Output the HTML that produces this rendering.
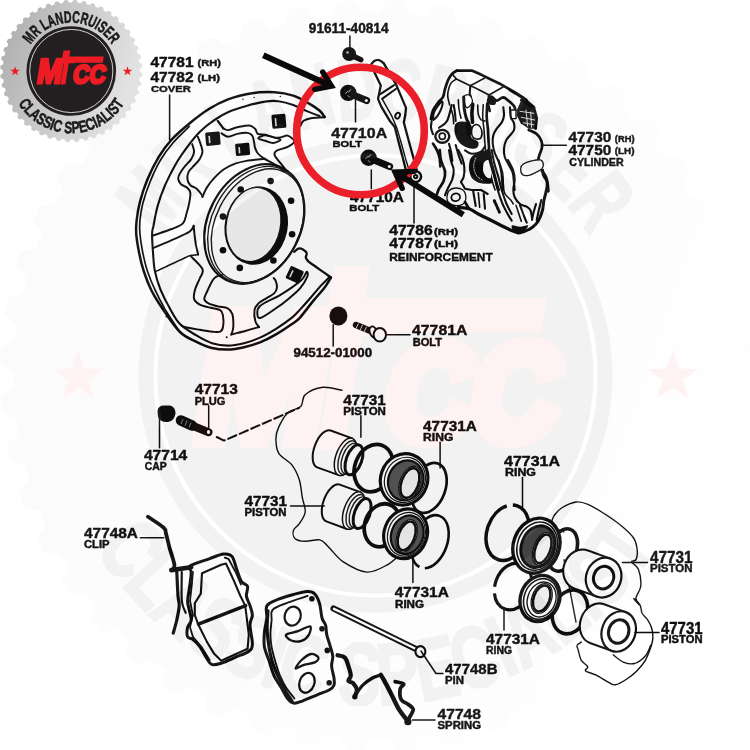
<!DOCTYPE html>
<html><head><meta charset="utf-8"><title>Brake caliper parts diagram</title>
<style>
html,body{margin:0;padding:0;background:#fff;}
svg{display:block;will-change:transform}
text{font-family:"Liberation Sans",sans-serif;font-weight:bold;fill:#111}
#labels text{stroke:#111;stroke-width:0.45;stroke-linejoin:round}
.ln{fill:none;stroke:#111;stroke-width:1.95;stroke-linecap:round;stroke-linejoin:round}
.th{fill:none;stroke:#111;stroke-width:2.2;stroke-linecap:round;stroke-linejoin:round}
.tn{fill:none;stroke:#1a1a1a;stroke-width:1.4;stroke-linecap:round;stroke-linejoin:round}
.bk{fill:#111;stroke:none}
.wf{fill:#fff;stroke:#111;stroke-width:1.3;stroke-linejoin:round}
#caliper .ln{stroke-width:2.2}
</style></head><body>
<svg width="750" height="750" viewBox="0 0 750 750">
<defs>
<linearGradient id="gg" x1="0" y1="0" x2="1" y2="0.35">
<stop offset="0" stop-color="#a9a9a9"/><stop offset="0.45" stop-color="#c6c6c6"/><stop offset="1" stop-color="#e2e2e2"/>
</linearGradient>
<filter id="soft" x="0" y="0" width="750" height="750" filterUnits="userSpaceOnUse"><feGaussianBlur stdDeviation="0.45"/></filter>
<path id="arcT" d="M -48.4 0 A 48.4 48.4 0 0 1 48.4 0"/>
<path id="arcB" d="M -62.2 0 A 62.2 62.2 0 0 0 62.2 0"/>
<g id="badge">
<path d="M68.50 0.72 L70.96 2.23 L70.80 5.39 L68.18 6.62 L67.82 9.65 L70.07 11.47 L69.49 14.58 L66.73 15.47 L65.98 18.42 L67.97 20.52 L66.99 23.52 L64.14 24.05 L63.01 26.88 L64.71 29.22 L63.35 32.07 L60.45 32.21 L58.96 34.87 L60.34 37.41 L58.62 40.06 L55.73 39.83 L53.91 42.27 L54.94 44.97 L52.89 47.37 L50.06 46.76 L47.93 48.94 L48.60 51.76 L46.25 53.87 L43.53 52.89 L41.13 54.78 L41.43 57.66 L38.83 59.44 L36.25 58.12 L33.63 59.68 L33.55 62.57 L30.73 64.00 L28.35 62.36 L25.55 63.56 L25.10 66.42 L22.12 67.47 L19.97 65.52 L17.04 66.35 L16.21 69.12 L13.12 69.78 L11.25 67.57 L8.23 68.00 L7.05 70.65 L3.90 70.89 L2.33 68.46 L-0.72 68.50 L-2.23 70.96 L-5.39 70.80 L-6.62 68.18 L-9.65 67.82 L-11.47 70.07 L-14.58 69.49 L-15.47 66.73 L-18.42 65.98 L-20.52 67.97 L-23.52 66.99 L-24.05 64.14 L-26.88 63.01 L-29.22 64.71 L-32.07 63.35 L-32.21 60.45 L-34.87 58.96 L-37.41 60.34 L-40.06 58.62 L-39.83 55.73 L-42.27 53.91 L-44.97 54.94 L-47.37 52.89 L-46.76 50.06 L-48.94 47.93 L-51.76 48.60 L-53.87 46.25 L-52.89 43.53 L-54.78 41.13 L-57.66 41.43 L-59.44 38.83 L-58.12 36.25 L-59.68 33.63 L-62.57 33.55 L-64.00 30.73 L-62.36 28.35 L-63.56 25.55 L-66.42 25.10 L-67.47 22.12 L-65.52 19.97 L-66.35 17.04 L-69.12 16.21 L-69.78 13.12 L-67.57 11.25 L-68.00 8.23 L-70.65 7.05 L-70.89 3.90 L-68.46 2.33 L-68.50 -0.72 L-70.96 -2.23 L-70.80 -5.39 L-68.18 -6.62 L-67.82 -9.65 L-70.07 -11.47 L-69.49 -14.58 L-66.73 -15.47 L-65.98 -18.42 L-67.97 -20.52 L-66.99 -23.52 L-64.14 -24.05 L-63.01 -26.88 L-64.71 -29.22 L-63.35 -32.07 L-60.45 -32.21 L-58.96 -34.87 L-60.34 -37.41 L-58.62 -40.06 L-55.73 -39.83 L-53.91 -42.27 L-54.94 -44.97 L-52.89 -47.37 L-50.06 -46.76 L-47.93 -48.94 L-48.60 -51.76 L-46.25 -53.87 L-43.53 -52.89 L-41.13 -54.78 L-41.43 -57.66 L-38.83 -59.44 L-36.25 -58.12 L-33.63 -59.68 L-33.55 -62.57 L-30.73 -64.00 L-28.35 -62.36 L-25.55 -63.56 L-25.10 -66.42 L-22.12 -67.47 L-19.97 -65.52 L-17.04 -66.35 L-16.21 -69.12 L-13.12 -69.78 L-11.25 -67.57 L-8.23 -68.00 L-7.05 -70.65 L-3.90 -70.89 L-2.33 -68.46 L0.72 -68.50 L2.23 -70.96 L5.39 -70.80 L6.62 -68.18 L9.65 -67.82 L11.47 -70.07 L14.58 -69.49 L15.47 -66.73 L18.42 -65.98 L20.52 -67.97 L23.52 -66.99 L24.05 -64.14 L26.88 -63.01 L29.22 -64.71 L32.07 -63.35 L32.21 -60.45 L34.87 -58.96 L37.41 -60.34 L40.06 -58.62 L39.83 -55.73 L42.27 -53.91 L44.97 -54.94 L47.37 -52.89 L46.76 -50.06 L48.94 -47.93 L51.76 -48.60 L53.87 -46.25 L52.89 -43.53 L54.78 -41.13 L57.66 -41.43 L59.44 -38.83 L58.12 -36.25 L59.68 -33.63 L62.57 -33.55 L64.00 -30.73 L62.36 -28.35 L63.56 -25.55 L66.42 -25.10 L67.47 -22.12 L65.52 -19.97 L66.35 -17.04 L69.12 -16.21 L69.78 -13.12 L67.57 -11.25 L68.00 -8.23 L70.65 -7.05 L70.89 -3.90 L68.46 -2.33Z" fill="url(#gg)"/>
<circle r="44.8" fill="#231f20"/>
<circle r="41.6" fill="none" stroke="#fff" stroke-width="0.8"/>
<text font-size="16.5" text-anchor="middle" style="fill:#1a1a1a;stroke:#1a1a1a;stroke-width:0.55"><textPath href="#arcT" startOffset="50%" textLength="96" lengthAdjust="spacingAndGlyphs">MR LANDCRUISER</textPath></text>
<text font-size="16.5" text-anchor="middle" style="fill:#1a1a1a;stroke:#1a1a1a;stroke-width:0.55"><textPath href="#arcB" startOffset="50%" textLength="127" lengthAdjust="spacingAndGlyphs">CLASSIC SPECIALIST</textPath></text>
<path id="star" d="M0 -5 L1.18 -1.62 L4.76 -1.55 L1.9 0.62 L2.94 4.05 L0 2 L-2.94 4.05 L-1.9 0.62 L-4.76 -1.55 L-1.18 -1.62Z" transform="translate(-56.2,0.3)" fill="#ed1c24"/>
<use href="#star" x="112.4"/>
<g transform="translate(0,13.4) skewX(-9)">
<text x="-35.6" y="-1.2" style="fill:#ed1c24;stroke:#ed1c24;stroke-linejoin:miter"><tspan font-size="34.5" stroke-width="3" textLength="25" lengthAdjust="spacingAndGlyphs">M</tspan><tspan font-size="37" dx="-6.2" dy="1.2" stroke-width="1.2" textLength="17" lengthAdjust="spacingAndGlyphs">T</tspan><tspan font-size="25.5" dx="0.6" dy="-1.4" stroke-width="3" textLength="32.5" lengthAdjust="spacingAndGlyphs">CC</tspan></text>
<rect x="-11.5" y="-28" width="39.5" height="6.4" fill="#ed1c24"/>
<rect x="-13.2" y="-34" width="6.8" height="13" fill="#ed1c24"/>
</g>
</g>
</defs>
<rect width="750" height="750" fill="#fff"/>
<g filter="url(#soft)">
<!-- 20_cover.svg -->
<g id="cover">
<path class="ln" d="M324.7 117.1 C323.8 116 322.2 112.9 319.5 110.5 C316.7 108.2 312.6 105.6 308.3 103.1 C303.9 100.6 298.9 97.4 293.3 95.6 C287.7 93.8 281.8 92.6 274.7 92.2 C267.5 91.9 258.2 92.2 250.4 93.4 C242.6 94.5 234.8 96.8 228 99.3 C221.2 101.9 215.6 104.8 209.3 108.7 C203.1 112.6 196.6 117.5 190.3 122.7 C184.1 127.8 177 133.7 171.7 139.5 C166.4 145.2 162.6 150.5 158.6 157.2 C154.6 163.9 150.5 172.1 147.4 179.6 C144.3 187.1 141.7 195.2 139.9 202 C138.1 208.8 137.2 215.4 136.6 220.7 C136 225.9 135.8 228.4 136.2 233.7 C136.6 238.9 137.8 246.1 139 252.3 C140.2 258.6 141.6 264.8 143.7 271 C145.7 277.2 148 283.4 151.1 289.7 C154.2 295.9 157.5 301.3 162.3 308.3 C167.1 315.4 174.4 326.5 180 332 C185.6 337.5 190.7 338.9 196 341.6 C201.3 344.3 206.7 346.7 212 348 C217.3 349.3 222.7 349.7 228 349.6 C233.3 349.5 238.7 348.4 244 347.2 C249.3 346 254.7 344.5 260 342.4 C265.3 340.3 270.7 337.5 276 334.4 C281.3 331.3 288 326.8 292 324 C296 321.2 296.5 321.5 300 317.6 C303.5 313.7 309.2 305.8 313.3 300.9 C317.3 295.9 321.5 291.7 324.5 287.8 C327.4 283.9 329.9 279.2 331 277.5" style="stroke-width:2.5"/>
<path class="ln" d="M189.4 126.4 C186.8 129 178.4 136.7 173.5 142.3 C168.7 147.9 164.4 153.5 160.5 160 C156.6 166.5 153.2 174.2 150.2 181.5 C147.2 188.8 144.4 197.3 142.7 203.9 C141 210.4 140.4 215.7 139.9 220.7 C139.5 225.6 139.5 228.4 139.9 233.7 C140.4 238.9 141.5 246.1 142.7 252.3 C144 258.6 145.4 264.8 147.4 271 C149.4 277.2 151.9 283.3 154.9 289.7 C157.8 296 161.2 302.5 165.1 309.3 C169.1 316 176.3 326.5 178.5 330" style="stroke-width:1.7"/>
<path class="ln" d="M319.5 116.1 C317.3 115.3 310.8 112.8 306.4 110.9 C302 109 298 106.6 293.3 104.9 C288.7 103.3 283.1 101.8 278.4 101.2 C273.7 100.6 270.3 100.8 265 101.6 C259.6 102.4 252.2 104.2 246.3 105.9 C240.4 107.5 234.8 109.1 229.5 111.5 C224.2 113.8 219.6 116.4 214.6 119.9 C209.6 123.3 204.3 127.3 199.7 132 C195 136.7 190.6 142.4 186.6 147.9 C182.6 153.3 179 158.4 175.4 164.7 C171.8 170.9 168.1 178.4 165.1 185.2 C162.2 192 159.6 198.9 157.7 205.7 C155.7 212.6 154.3 221.6 153.4 226.3 C152.4 230.9 152.1 229.3 152.1 233.7 C152 238 152.5 246.1 153 252.3 C153.5 258.6 153.6 264.8 154.9 271 C156.1 277.2 158 283.4 160.5 289.7 C163 295.9 166.5 302.6 169.8 308.3 C173.1 314.1 175.6 319.5 180 324 C184.4 328.5 190.7 332 196 335.2 C201.3 338.4 206.7 341.5 212 343.2 C217.3 344.9 222.7 345.6 228 345.6 C233.3 345.6 238.7 344.5 244 343.2 C249.3 341.9 254.7 340 260 337.6 C265.3 335.2 270.7 332.1 276 328.8 C281.3 325.5 288 320.8 292 317.6 C296 314.4 297.1 312.7 300 309.6 C302.9 306.5 306.1 302.9 309.5 299 C313 295.1 317.5 289.5 320.7 285.9 C324 282.4 327.7 278.9 329.1 277.5" style="stroke-width:2.1"/>
<path class="ln" d="M324.7 117.1 C322.6 117.2 315.5 117.4 312 118 C308.5 118.6 305.5 119.5 303.6 120.8 C301.7 122.1 301 125 300.4 125.8"/>
<path class="ln" d="M331 277.5 C329.9 276.8 327.1 274.7 324.5 272.9 C321.8 271 317.8 268.2 315.1 266.3 C312.5 264.5 310.2 263.1 308.6 261.7 C307 260.2 306.1 259 305.8 257.6 C305.5 256.2 307.2 254.6 306.7 253.3 C306.3 251.9 304.4 250.3 303 249.5 C301.6 248.8 299.8 248.2 298.3 248.6 C296.9 249 294.9 251.2 294.2 251.8" style="stroke-width:2.3"/>
<circle cx="242.9" cy="99.3" r="0.7" class="bk"/>
<circle cx="254.1" cy="97.5" r="0.7" class="bk"/>
<circle cx="280.3" cy="96.5" r="0.7" class="bk"/>
<path class="th" d="M217.7 120.8 L223.3 128.3"/>
<path class="ln" d="M223.3 128.3 C224.1 128.6 225.7 130.3 228 130.1 C230.3 130 233.8 128.1 237.3 127.3 C240.9 126.6 246.5 125.2 249.5 125.5 C252.4 125.7 253.7 127.4 255.1 128.8 C256.5 130.2 256.2 132.9 257.9 133.9 C259.6 134.9 262.5 134.2 265.3 134.8 C268.1 135.4 271.9 137.2 274.7 137.6 C277.5 138 280 137.4 282.1 137 C284.3 136.7 285.7 135 287.7 135.7 C289.8 136.4 294.3 139.5 294.3 141.3 C294.3 143.2 290.7 145.4 287.7 146.9 C284.8 148.5 278.7 149.3 276.5 150.7 C274.4 152.1 274 153.3 274.7 155.3 C275.3 157.4 278.1 160 280.3 162.8 C282.4 165.6 286.5 170.6 287.7 172.1"/>
<path class="ln" d="M221.5 133.3 C222.6 133.9 225.4 136.6 228 136.7 C230.6 136.8 234.1 134.5 237.3 133.9 C240.6 133.2 245.1 132.6 247.6 132.9 C250.1 133.2 251.2 134.2 252.3 135.7 C253.4 137.3 253.7 140.2 254.1 142.3 C254.6 144.3 254.4 146 255.1 147.9 C255.7 149.7 256.5 151.8 257.9 153.5 C259.3 155.2 261.1 156.6 263.5 158.1 C265.8 159.7 269.4 161.4 271.9 162.8 C274.4 164.2 276.4 165.1 278.4 166.5 C280.4 167.9 283.1 170.4 284 171.2"/>
<path class="ln" d="M258.2 138.2 C258.2 139.1 262.8 140 265.3 140.8 C267.8 141.6 270.6 143.2 273.2 143 C275.7 142.8 280.4 140.6 280.6 139.7 C280.9 138.8 277.2 138.3 274.7 137.6 C272.1 136.9 268.1 135.3 265.3 135.4 C262.6 135.5 258.2 137.3 258.2 138.2Z"/>
<path class="ln" d="M197.8 136.7 C198.3 137.9 199.8 141.6 200.6 144.1 C201.4 146.6 202.6 149.1 202.5 151.6 C202.3 154.1 201.2 156.6 199.7 159.1 C198.1 161.6 195 164.4 193.1 166.5 C191.3 168.7 189.4 170 188.5 172.1 C187.5 174.3 187.2 177.4 187.5 179.6 C187.8 181.8 188.8 183.6 190.3 185.2 C191.9 186.8 195 187.4 196.9 188.9 C198.7 190.5 200.6 193.2 201.5 194.5 C202.5 195.8 202.3 196.4 202.5 196.8"/>
<path class="ln" d="M192.2 144.1 C192.5 145.4 194.2 149.1 194.1 151.6 C193.9 154.1 192.8 156.6 191.3 159.1 C189.7 161.6 186.6 164.2 184.7 166.5 C182.9 168.9 181.2 171 180.1 173.1 C179 175.1 178 176.8 178.2 178.7 C178.4 180.5 179.4 182.7 181 184.3 C182.6 185.8 186 186.6 187.5 188 C189.1 189.4 190 190.3 190.3 192.7 C190.6 195 190 198.6 189.4 202 C188.8 205.4 187.7 209.6 186.6 213.2 C185.5 216.8 185.4 220.8 182.9 223.4 C180.4 226 176.6 227 171.7 229 C166.7 231 156.1 234.4 153 235.5"/>
<path class="ln" d="M202.5 196.8 C203.2 195.2 205.1 190.2 207.1 187.1 C209.2 183.9 211.8 180.7 214.6 177.7 C217.4 174.8 220.5 171.7 223.9 169.3 C227.4 167 231.4 165.1 235.1 163.7 C238.9 162.3 241.4 161.8 246.3 160.9 C251.3 160.1 261.9 159.1 265 158.7"/>
<path class="ln" d="M153 248.2 C156.1 246.9 165.6 242.9 171.7 240.2 C177.7 237.5 185.7 234.2 189.4 231.8 C193.1 229.4 193 226.8 193.7 225.8"/>
<path class="ln" d="M193.7 225.8 C193.8 227.1 194.1 230.5 194.4 233.7 C194.8 236.8 195.3 241.4 195.9 244.9 C196.6 248.4 197.8 253 198.2 254.6"/>
<path class="ln" d="M198.2 254.6 L189.4 255.7 L154.9 271.9" style="stroke-dasharray:1.2 1;stroke-width:1.6"/>
<path class="ln" d="M190.3 255.7 C192.4 257.9 200.9 265.3 202.5 269.1 C204 272.9 200.9 275 199.7 278.5 C198.4 281.9 195.9 286.2 195 289.7 C194.1 293.1 193.3 296.5 194.1 299 C194.8 301.5 197.2 303.2 199.7 304.6 C202.2 306 205.6 306.5 209 307.4 C212.4 308.3 217.9 308.8 220.2 310.2 C222.5 311.6 222.5 313 223 315.8 C223.5 318.6 223.5 324.4 223 327 C222.5 329.6 221.9 330.9 220.2 331.7 C218.5 332.4 216.2 332 212.7 331.7 C209.3 331.4 204.3 330.6 199.7 329.8 C195 329 187.8 327.8 184.7 327 C181.6 326.2 181.6 325.4 181 325.1"/>
<path class="ln" d="M222.1 275.1 C221.1 275.4 218 275.7 216.5 276.6 C214.9 277.5 214.3 277.8 212.7 280.3 C211.2 282.8 208.5 288.4 207.1 291.5 C205.7 294.6 204 297 204.3 299 C204.6 301 206.7 302.4 209 303.7 C211.3 304.9 215.2 305.7 218.3 306.5 C221.4 307.2 225.3 307.1 227.7 308.3 C230 309.6 231.4 310.8 232.3 313.9 C233.3 317 233.4 323.6 233.3 327 C233.1 330.4 231.7 333.2 231.4 334.5"/>
<circle cx="226.7" cy="337.3" r="1" class="bk"/>
<circle cx="166.1" cy="316.7" r="0.8" class="bk"/>
<path class="ln" d="M231.1 334.5 C233.6 333.8 241.4 332 246.1 330.7 C250.7 329.5 257 327.6 259.1 327"/>
<path class="ln" d="M259.1 327 C258.5 326.1 256.2 324.2 255.4 321.4 C254.6 318.6 254 313.2 254.5 310.2 C254.9 307.2 256.2 305.7 258.2 303.7 C260.2 301.6 264 299.8 266.6 298.1 C269.2 296.4 272.4 295.1 274.1 293.4 C275.8 291.7 276.6 289.8 276.9 287.8 C277.2 285.8 276.5 282.9 275.9 281.3 C275.4 279.6 274.1 278.6 273.7 278.1"/>
<path class="ln" d="M260.1 318 C257 318.7 257.4 314 257.3 312.1 C257.2 310.1 258 308.2 259.5 306.5 C261.1 304.8 263.2 303.7 266.6 301.8 C270 299.9 275.3 297.8 279.7 295.3 C284 292.8 289 289.5 292.7 286.9 C296.5 284.2 299.7 281.9 302.1 279.4 C304.4 276.9 305.9 272.4 306.7 271.9 C307.6 271.5 308.4 273.9 307.3 276.6 C306.2 279.3 303.2 284.5 300.2 288.2 C297.2 291.8 293 295.1 289 298.4 C285 301.8 280.8 305.1 275.9 308.3 C271.1 311.6 263.2 317.4 260.1 318Z"/>
<g transform="rotate(-5 212.9 138.7)"><rect x="205.6" y="132.0" width="14.6" height="13.4" rx="1.5" class="bk"/><rect x="208.6" y="135.5" width="1.6" height="7.4" fill="#ddd"/></g>
<g transform="rotate(-5 242.6 149.4)"><rect x="235.5" y="143.2" width="14.2" height="12.4" rx="1.5" class="bk"/><rect x="238.5" y="146.7" width="1.6" height="6.4" fill="#ddd"/></g>
<g transform="rotate(-5 278.9 121.3)"><rect x="271.9" y="114.3" width="14.0" height="14.0" rx="1.5" class="bk"/><rect x="274.9" y="117.8" width="1.6" height="8.0" fill="#ddd"/></g>
<g transform="rotate(25 294.8 274.8)"><rect x="287.5" y="268.0" width="14.5" height="13.6" rx="1.5" class="bk"/><rect x="290.5" y="271.5" width="1.6" height="7.6" fill="#ddd"/></g>
<g transform="translate(254.3,224) rotate(27)">
<ellipse rx="46.2" ry="62.7" class="ln" style="stroke-width:2.2"/>
<ellipse cx="1.8" cy="0" rx="44.2" ry="61.4" class="tn"/>
<ellipse cx="3.8" cy="0" rx="42.2" ry="60" class="tn"/>
</g>
<g transform="translate(253.4,224.5) rotate(11.5)">
<ellipse cx="3" cy="0.5" rx="31.5" ry="39.5" class="bk"/>
<ellipse rx="27" ry="37.3" fill="#f4f4f4" stroke="#111" stroke-width="1.2"/>
</g>
<circle cx="270.6" cy="181.1" r="3.3" class="bk"/>
<circle cx="240.7" cy="189.5" r="3.3" class="bk"/>
<circle cx="223.0" cy="216.6" r="3.3" class="bk"/>
<circle cx="223.0" cy="250.2" r="3.3" class="bk"/>
<circle cx="239.8" cy="267.9" r="3.3" class="bk"/>
<circle cx="273.4" cy="260.5" r="3.3" class="bk"/>
<circle cx="292.1" cy="234.3" r="3.3" class="bk"/>
<circle cx="291.1" cy="200.7" r="3.3" class="bk"/>
</g>
<!-- 22_bolts.svg -->
<g id="bolts-bracket">
<circle cx="349.2" cy="54" r="7" class="bk"/>
<path class="ln" d="M353.9 56.5 L360.8 59.6" style="stroke-width:5.4;stroke:#111"/>
<circle cx="347.5" cy="52.5" r="1.2" fill="#bbb"/>
<path d="M348.3 92.9 L366.6 100.6" stroke="#111" stroke-width="7.0" stroke-linecap="round" fill="none"/>
<circle cx="348.3" cy="92.9" r="8.2" class="bk"/>
<circle cx="366.3" cy="100.5" r="1.5" fill="#fff"/>
<path d="M345.3 93.9 l3 -3 M350.8 89.4 l-2.5 3 M347.8 95.4 l2 2" stroke="#ccc" stroke-width="0.9" fill="none"/>
<path d="M368.6 157.8 L389.6 166.6" stroke="#111" stroke-width="7.0" stroke-linecap="round" fill="none"/>
<circle cx="368.6" cy="157.8" r="8.2" class="bk"/>
<circle cx="389.3" cy="166.5" r="1.5" fill="#fff"/>
<path d="M365.6 158.8 l3 -3 M371.1 154.3 l-2.5 3 M368.1 160.3 l2 2" stroke="#ccc" stroke-width="0.9" fill="none"/>
<path class="ln" d="M370.9 64.9 C371.4 64.3 372.6 62 373.9 61.2 C375.2 60.4 377.3 59.8 378.9 60.1 C380.6 60.4 382.8 62.6 383.6 63.1" style="stroke-width:2.2"/>
<path class="ln" d="M370.9 64.9 L380.8 85.5 L378 98.9 L381.4 106.9 L390.1 121.3 L394.8 126.9 L398.9 143.3 L403.4 160.1 L406.4 172.3" style="stroke-width:2.3"/>
<path class="ln" d="M383.6 63.1 L395.7 83.6 L406 107.9 L405.3 115 L403.8 122.4 L407.9 137.7 L412.5 154.5 L416.8 170.4" style="stroke-width:2.3"/>
<path class="ln" d="M379.9 94.4 L394.1 85.1"/>
<path class="ln" d="M382.1 98.9 L396.1 88.8"/>
<path class="ln" d="M382.1 98.9 L391.4 115.3 L397 128.4 L401.3 143.3 L406 160.1 L409.4 171.3" style="stroke-width:1.4"/>
<ellipse cx="397.6" cy="115.7" rx="2.2" ry="3" transform="rotate(25 397.6 115.7)" class="ln" style="stroke-width:1.9"/>
<circle cx="415.7" cy="176.6" r="5.4" class="ln" style="stroke-width:2.4;fill:#fff"/><circle cx="415.7" cy="176.6" r="1.7" class="ln"/>
</g>
<!-- 24_caliper.svg -->
<g id="caliper">
<path class="ln" d="M431 119 C431.3 117.6 431.8 113.1 433 110.3 C434.2 107.6 436.7 104.6 438.3 102.3 C440 100.1 441.9 99.2 443 97 C444.1 94.8 444.1 91.9 445 89 C445.9 86.1 447.1 82.2 448.3 79.7 C449.6 77.1 450.9 75.2 452.3 73.7 C453.8 72.2 456.2 71.1 457 70.6" style="stroke-width:2.7"/>
<path class="ln" d="M457 70.6 L471.7 70.6 L481 74.6 L499.7 83.7 L517 93.7 L526.3 99.9" style="stroke-width:2.7"/>
<path class="ln" d="M433 118.3 C433.1 117 433.3 114 434.3 111.7 C435.3 109.3 437.7 106 439 104.3 C440.3 102.7 441.9 101.1 442.3 101.7 C442.8 102.2 442.4 105.3 441.7 107.7 C440.9 110 439 113.7 437.7 115.7 C436.3 117.7 434.4 119.2 433.7 119.7 C432.9 120.1 432.9 119.7 433 118.3Z" style="stroke-width:2.1"/>
<path class="ln" d="M456.3 79 L470.3 85.7 L484.3 78.3" style="stroke-width:1.6"/>
<path class="ln" d="M452.3 74.1 L456.3 79" style="stroke-width:1.6"/>
<path class="ln" d="M470.3 85.7 L475 87.7 L489 95 L503 87" style="stroke-width:1.6"/>
<path class="ln" d="M470.3 85.7 L469.7 93.7 L471 97" style="stroke-width:2.1"/>
<path class="ln" d="M489 95 L488.3 105 L489.7 111" style="stroke-width:2.7"/>
<path class="ln" d="M456.3 79 C455.6 79.6 452.9 80.9 451.7 82.3 C450.4 83.8 449.7 85.4 449 87.7 C448.3 89.9 447.6 92.8 447.7 95.7 C447.8 98.6 449.3 103.4 449.7 105" style="stroke-width:1.6"/>
<path class="wf" d="M464.3 96.3 C465 94.7 467.7 94.4 469 95 C470.3 95.6 471.9 98.2 472.3 99.7 C472.8 101.1 472.4 102.3 471.7 103.7 C470.9 105 468.8 107.4 467.7 107.7 C466.6 107.9 465.6 106.9 465 105 C464.4 103.1 463.7 98 464.3 96.3Z"/>
<path class="ln" d="M463.7 97 C463.8 99 463.9 105.4 464.3 109 C464.8 112.6 465.6 115.9 466.3 118.3 C467.1 120.8 468.6 122.8 469 123.7" style="stroke-width:3"/>
<path class="ln" d="M472.7 104.3 C472.6 105.8 472 110 471.9 113 C471.9 116 472.4 120.8 472.5 122.3" style="stroke-width:3.6"/>
<path class="ln" d="M477.7 105 C477.8 106.6 477.8 111.9 478.3 114.3 C478.9 116.8 479.9 118.6 481 119.7 C482.1 120.8 484.3 120.8 485 121" style="stroke-width:1.6"/>
<path class="ln" d="M458.3 99.7 C458.4 101.2 458.6 105.9 459 109 C459.4 112.1 460.7 116.8 461 118.3" style="stroke-width:1.6"/>
<path class="ln" d="M453.7 105 C453.9 106.3 454.7 110.3 455 113 C455.3 115.7 455.6 119.7 455.7 121" style="stroke-width:2.1"/>
<path d="M455 125 C455.8 122.9 457.3 122 459.7 121.7 C462 121.3 466.9 121.8 469 123 C471.1 124.2 472 126.7 472.3 129 C472.7 131.3 470 134.8 471 137 C472 139.2 477.4 140.4 478.3 142.3 C479.2 144.2 478.1 147.4 476.3 148.3 C474.6 149.2 470.4 148.6 467.7 147.7 C464.9 146.8 461.8 145.2 459.7 143 C457.6 140.8 455.8 137.3 455 134.3 C454.2 131.3 454.2 127.1 455 125Z" fill="#111"/>
<path d="M471.7 129.7 C471.9 127.9 472.6 126.4 473.7 125.7 C474.8 124.9 477 124.2 478.3 125 C479.7 125.8 481.2 128.2 481.7 130.3 C482.1 132.4 481.9 136.2 481 137.7 C480.1 139.1 477.8 139.2 476.3 139 C474.9 138.8 473.1 137.9 472.3 136.3 C471.6 134.8 471.4 131.4 471.7 129.7Z" fill="#fff"/>
<path class="ln" d="M471.7 129.7 C471.9 127.9 472.6 126.4 473.7 125.7 C474.8 124.9 477 124.2 478.3 125 C479.7 125.8 481.2 128.2 481.7 130.3 C482.1 132.4 481.9 136.2 481 137.7 C480.1 139.1 477.8 139.2 476.3 139 C474.9 138.8 473.1 137.9 472.3 136.3 C471.6 134.8 471.4 131.4 471.7 129.7Z" style="stroke-width:1.6"/>
<path class="ln" d="M465 150.3 C466.1 150.9 469 153.4 471.7 153.7 C474.3 153.9 478.8 152.9 481 151.7 C483.2 150.4 484.3 147.2 485 146.3" style="stroke-width:2.1"/>
<ellipse cx="442.3" cy="136.3" rx="7" ry="6.4" class="ln" style="stroke-width:2.4;fill:#fff"/>
<ellipse cx="442.3" cy="136.3" rx="3.1" ry="3.1" class="ln" style="stroke-width:1.7"/>
<path class="ln" d="M451.7 105 C450.9 107.7 449.1 117.2 447 121 C444.9 124.8 440.3 126.6 439 127.7" style="stroke-width:2.1"/>
<path class="ln" d="M431.7 121 C431.6 122.1 430.8 125.4 431 127.7 C431.2 129.9 432.7 133.2 433 134.3" style="stroke-width:2.1"/>
<path class="ln" d="M433 143.7 C433.7 144.8 435.9 147.9 437 150.3 C438.1 152.8 439.1 155.7 439.7 158.3 C440.2 161 440.2 165 440.3 166.3" style="stroke-width:2.7"/>
<path class="ln" d="M449 143.7 C449.3 145 450.4 148.8 451 151.7 C451.6 154.6 452.1 159.4 452.3 161" style="stroke-width:2.1"/>
<path class="ln" d="M455.7 145 C456.1 146.6 457.3 151.2 458.3 154.3 C459.3 157.4 461.1 162.1 461.7 163.7" style="stroke-width:2.1"/>
<path class="ln" d="M451 109 C451.3 110.1 452.6 113.2 453 115.7 C453.4 118.1 453.6 122.3 453.7 123.7" style="stroke-width:1.6"/>
<path class="ln" d="M488 100.7 C488.6 100 489.9 96.7 491.3 96.7 C492.8 96.7 494.7 100.6 496.7 100.7 C498.7 100.8 501.1 97.1 503.3 97.3 C505.6 97.6 508.2 100.6 510 102 C511.8 103.4 513.1 104.7 514 106 C514.9 107.3 515.1 109.3 515.3 110" style="stroke-width:2.7"/>
<path d="M488.7 99.6 C489 98.4 490.8 97.1 492 97.3 C493.2 97.6 495.6 99.7 496 100.9 C496.4 102.2 495.7 104.1 494.7 104.7 C493.7 105.2 491 105.2 490 104.4 C489 103.6 488.3 100.8 488.7 99.6Z" fill="#111"/>
<rect x="510.7" y="110.0" width="5.3" height="8.6" class="wf" style="stroke-width:1.4"/>
<path d="M521.3 100 L534 108 L536.7 118 L535.6 128.7 L528.7 128.7 L520.7 123.3 L516.7 115.3 L516.9 110Z" fill="#1a1a1a"/>
<path class="ln" d="M521.3 100 L534 108 L536.7 118 L535.6 128.7" style="stroke-width:2.7"/>
<path class="ln" d="M520 111.3 L534 113.3" style="stroke:#eee;stroke-width:0.9"/>
<path class="ln" d="M521.3 117.3 L534.7 120" style="stroke:#eee;stroke-width:0.9"/>
<path class="ln" d="M523.3 122.7 L534 124.9" style="stroke:#eee;stroke-width:0.9"/>
<path class="ln" d="M526 110 L527.6 126" style="stroke:#eee;stroke-width:0.9"/>
<path class="ln" d="M530.7 112 L531.6 127.3" style="stroke:#eee;stroke-width:0.9"/>
<path class="ln" d="M510 90 L523.3 98 L534 107.3" style="stroke-width:2.7"/>
<path class="ln" d="M510 107.3 C510.1 108.9 510 114 510.7 116.7 C511.3 119.3 513.4 121.1 514 123.3 C514.6 125.6 514.7 128 514 130 C513.3 132 511.3 133.6 510 135.3 C508.7 137.1 507 138.4 506 140.7 C505 142.9 504.2 146 504 148.7 C503.8 151.3 503.9 154 504.7 156.7 C505.4 159.3 507.3 162 508.7 164.7 C510 167.3 511.8 169.6 512.7 172.7 C513.6 175.8 513.7 180.4 514 183.3 C514.3 186.2 514.6 188.9 514.7 190" style="stroke-width:2.1"/>
<path class="ln" d="M503.3 107.3 C503.4 108.7 504.2 112.9 504 115.3 C503.8 117.8 503.2 119.8 502 122 C500.8 124.2 498.1 126.4 496.7 128.7 C495.2 130.9 494 132.9 493.3 135.3 C492.7 137.8 492.4 140.4 492.7 143.3 C492.9 146.2 493.7 149.6 494.7 152.7 C495.7 155.8 497.6 158.7 498.7 162 C499.8 165.3 500.7 168 501.3 172.7 C502 177.3 502.4 187.1 502.7 190" style="stroke-width:2.1"/>
<path class="ln" d="M487.3 103.3 C487.2 105.6 486.6 112.2 486.7 116.7 C486.8 121.1 487.7 125.6 488 130 C488.3 134.4 488.3 138.9 488.7 143.3 C489 147.8 489.2 152.2 490 156.7 C490.8 161.1 492.2 165.6 493.3 170 C494.4 174.4 495.8 180 496.7 183.3 C497.6 186.7 498.3 188.9 498.7 190" style="stroke-width:2.7"/>
<path class="ln" d="M483.3 104.7 C483.2 106.7 482.6 112.4 482.7 116.7 C482.8 120.9 483.6 125.6 484 130 C484.4 134.4 484.5 138.9 484.9 143.3 C485.4 147.8 485.7 152.2 486.5 156.7 C487.3 161.1 488.7 165.6 489.7 170 C490.8 174.4 492 180 492.9 183.3 C493.8 186.7 494.7 188.9 495.1 190" style="stroke-width:1.6"/>
<path class="ln" d="M528.7 130 C530 130.7 534.6 132.2 536.7 134 C538.8 135.8 540.4 138.4 541.3 140.7 C542.2 142.9 542.3 144.9 542 147.3 C541.7 149.8 540 153.3 539.3 155.3 C538.7 157.3 538.4 158.7 538.3 159.3" style="stroke-width:2.7"/>
<path class="wf" d="M520.7 168.7 C520.8 166.9 521.3 165.3 523.3 164 C525.3 162.7 529.8 161.3 532.7 160.7 C535.6 160 538.9 159.4 540.7 160 C542.4 160.6 543.1 162.6 543.3 164 C543.6 165.4 543.1 167.3 542 168.7 C540.9 170 538.9 170.9 536.7 172 C534.4 173.1 531 174.9 528.7 175.3 C526.3 175.8 524 175.8 522.7 174.7 C521.3 173.6 520.6 170.4 520.7 168.7Z"/>
<path class="ln" d="M542.7 170 C542.8 170.9 542.6 173.3 543.3 175.3 C544.1 177.3 546.5 179.3 547.3 182 C548.2 184.7 548.2 189.8 548.4 191.3" style="stroke-width:2.7"/>
<path d="M469 164.7 C469.3 162 469.9 158.8 471.7 156.7 C473.4 154.6 476.8 153 479.7 152 C482.6 151 487 149.7 489 150.7 C491 151.7 492.2 156.1 491.7 158 C491.1 159.9 487.1 160 485.7 162 C484.2 164 482.9 167.6 483 170 C483.1 172.4 484.9 175.2 486.3 176.7 C487.8 178.1 490.8 177.6 491.7 178.7 C492.6 179.8 493.4 182.6 491.7 183.3 C489.9 184.1 484.1 184 481 183.3 C477.9 182.7 474.9 181.1 473 179.3 C471.1 177.6 470.3 175.1 469.7 172.7 C469 170.2 468.7 167.3 469 164.7Z" fill="#111"/>
<path d="M483.7 163.3 C484.3 161.4 486.4 160 487.7 160 C488.9 160 490.4 160.6 491 163.3 C491.6 166.1 491.7 174.3 491 176.7 C490.3 179 488.2 178.2 487 177.3 C485.8 176.4 484.2 173.7 483.7 171.3 C483.1 169 483 165.2 483.7 163.3Z" fill="#fff"/>
<path class="ln" d="M475.7 158 C475.3 159.3 473.6 163.1 473.7 166 C473.8 168.9 474.9 173 476.3 175.3 C477.8 177.7 481.3 179.2 482.3 180" style="stroke:#ddd;stroke-width:0.9;stroke-dasharray:1.5 1.5"/>
<path class="ln" d="M439.7 150 C439.9 151.8 440.1 157.1 441 160.7 C441.9 164.2 444.6 168 445 171.3 C445.4 174.7 444.7 177.8 443.7 180.7 C442.7 183.6 440.1 186.4 439 188.7 C437.9 190.9 437.3 193.1 437 194" style="stroke-width:2.7"/>
<path class="ln" d="M449 150 C449.3 151.8 450.2 157.3 451 160.7 C451.8 164 453.4 166.9 453.7 170 C453.9 173.1 453.3 176.2 452.3 179.3 C451.3 182.4 448.9 186 447.7 188.7 C446.4 191.3 445.4 194.2 445 195.3" style="stroke-width:2.1"/>
<path class="ln" d="M458.3 150 C459 151.3 461.3 155.1 462.3 158 C463.3 160.9 464.1 164.2 464.3 167.3 C464.6 170.4 464.2 174.2 463.7 176.7 C463.1 179.1 461.4 181.1 461 182" style="stroke-width:2.1"/>
<path class="wf" d="M447 196.7 C447.2 194.9 447.6 192.1 449 190.7 C450.4 189.2 453.3 188.1 455.7 188 C458 187.9 461.3 188.8 463 190 C464.7 191.2 465.3 193.3 465.7 195.3 C466 197.3 466 200.3 465 202 C464 203.7 461.9 204.9 459.7 205.3 C457.4 205.8 453.7 205.3 451.7 204.7 C449.7 204 448.4 202.7 447.7 201.3 C446.9 200 446.8 198.4 447 196.7Z"/>
<ellipse cx="455.7" cy="197.3" rx="4.4" ry="3.8" transform="rotate(-15 455.7 197.3)" class="ln" style="stroke-width:1.8"/>
<path class="ln" d="M461 182 L465 188.7 L471.7 190 L481 190 L487.7 194" style="stroke-width:2.1"/>
<path class="ln" d="M473 190 L475.7 206" style="stroke-width:2.1"/>
<path class="ln" d="M478.3 192.7 L479.7 207.3" style="stroke-width:1.6"/>
<path class="ln" d="M483.7 194 L485 208.7" style="stroke-width:2.1"/>
<path class="ln" d="M465 202 L469 208.7" style="stroke-width:2.7"/>
<path class="ln" d="M458.3 207.3 C460.1 207.6 465.7 207.6 469 208.7 C472.3 209.8 475 212.2 478.3 214 C481.7 215.8 485.4 217.6 489 219.3 C492.6 221.1 496.1 222.9 499.7 224.7 C503.2 226.4 507.2 228.6 510.3 230 C513.4 231.4 517 232.4 518.3 232.9" style="stroke-width:3.2"/>
<path class="ln" d="M487.7 150 C488.1 152.2 489.2 158.9 490.3 163.3 C491.4 167.8 493.1 172.2 494.3 176.7 C495.6 181.1 496.3 185.6 497.7 190 C499 194.4 500.7 199.3 502.3 203.3 C504 207.3 506.1 211.1 507.7 214 C509.2 216.9 511 219.6 511.7 220.7" style="stroke-width:2.1"/>
<path class="ln" d="M491.7 150 C492.1 152.2 493.2 158.9 494.3 163.3 C495.4 167.8 497.1 172.2 498.3 176.7 C499.6 181.1 500.3 185.6 501.7 190 C503 194.4 504.7 199.3 506.3 203.3 C508 207.3 510.8 212.2 511.7 214" style="stroke-width:2.1"/>
<path class="ln" d="M494.3 200.7 L499.7 212.7" style="stroke-width:3;stroke-dasharray:2 1.5"/>
<path class="ln" d="M542 170.7 C542.7 171.8 545.1 175.1 546 177.3 C546.9 179.6 547.3 181.6 547.3 184 C547.3 186.4 546.6 189.3 546 192 C545.4 194.7 544.6 197.1 544 200 C543.4 202.9 543.3 206.4 542.7 209.3 C542 212.2 541.1 214.9 540 217.3 C538.9 219.8 537.8 222 536 224 C534.2 226 532 227.9 529.3 229.3 C526.7 230.8 522.2 232.2 520 232.7 C517.8 233.1 516.7 232.1 516 232" style="stroke-width:3"/>
<path class="ln" d="M508 160 C508.9 161.8 512.2 167.3 513.3 170.7 C514.4 174 514.7 176.9 514.7 180 C514.7 183.1 513.3 186.4 513.3 189.3 C513.3 192.2 513.6 194.9 514.7 197.3 C515.8 199.8 518 202.4 520 204 C522 205.6 524.9 205.6 526.7 206.7 C528.4 207.8 529.8 208.7 530.7 210.7 C531.6 212.7 531.8 217.3 532 218.7" style="stroke-width:2.1"/>
<path class="ln" d="M498.7 160 C499.3 162.2 501.9 169.3 502.7 173.3 C503.4 177.3 503 180.7 503.3 184 C503.7 187.3 503.4 190.7 504.7 193.3 C505.9 196 509.2 198.2 510.7 200 C512.1 201.8 512.9 203.3 513.3 204" style="stroke-width:1.6"/>
<path class="ln" d="M536 204 L533.3 213.3 L532 220" style="stroke-width:2.1"/>
<path class="ln" d="M541.3 200 L538.7 210.7 L536.7 220" style="stroke-width:2.1"/>
<path class="ln" d="M520 205.3 L524 216 L526.7 222.7" style="stroke-width:2.1"/>
<path class="ln" d="M516 205.3 L521.3 221.3" style="stroke-width:1.6"/>
<path d="M512 225.3 C513.1 224.6 517.3 226.7 520 226.7 C522.7 226.7 527.2 224.7 528 225.3 C528.8 226 526.2 229.3 524.7 230.7 C523.1 232 520.6 233.6 518.7 233.6 C516.8 233.6 514.4 232.3 513.3 230.9 C512.2 229.6 510.9 226 512 225.3Z" fill="#111"/>
</g>
<!-- 26_small.svg -->
<g id="small-parts">
<ellipse cx="338.4" cy="316" rx="9" ry="9.4" class="bk"/>
<path d="M356 325 L373 332" stroke="#111" stroke-width="6.4" stroke-linecap="round" fill="none"/>
<path d="M358.5 323.5 l-2.5 5 M362.5 325 l-2.5 5.4 M366.5 326.8 l-2.5 5.4" stroke="#ddd" stroke-width="0.9" fill="none"/>
<ellipse cx="373.5" cy="332.2" rx="3.6" ry="6" transform="rotate(-22 373.5 332.2)" class="wf" style="stroke-width:1.8"/>
<ellipse cx="379.8" cy="334.8" rx="6.2" ry="6.8" class="wf" style="stroke-width:2"/>
<path class="bk" d="M157.5 411 Q158 405.5 164 405.5 L170 405.5 Q175.5 407 175.5 413 Q175 420.5 168 422 Q160 422.5 158 417Z"/>
<path d="M181 420.5 L192 425.5" stroke="#111" stroke-width="10.6" stroke-linecap="round" fill="none"/>
<path d="M192 425.5 L208.5 432.2" stroke="#111" stroke-width="8" stroke-linecap="round" fill="none"/>
<path d="M183 419 l-2 5 M187 420.5 l-2 5.4 M191 422.5 l-2 5" stroke="#999" stroke-width="0.8" fill="none"/>
<ellipse cx="208.5" cy="432" rx="1.6" ry="1.9" fill="#fff"/>
<path d="M216.7 437 L224 440.6 L299 408" class="ln" style="stroke-dasharray:9 3.6;stroke-width:2"/>
</g>
<!-- 30_pistons_c.svg -->
<g id="pistons-center">
<path class="ln" d="M341.9 390.3 C338.7 389.8 328.9 386.6 322.8 387.3 C316.7 388.1 308.9 391.5 305.2 394.7 C301.5 397.8 303.7 403.4 300.8 406.4 C297.9 409.4 291.3 409.4 287.6 412.9 C283.9 416.3 280.8 422.6 278.8 426.9 C276.8 431.2 275.9 434.3 275.9 438.7 C275.9 443.1 276.1 448.9 278.8 453.3 C281.5 457.7 288.6 460.7 292 465.1 C295.4 469.5 297.6 474.4 299.3 479.7 C301 485.1 301.3 492 302.3 497.3 C303.2 502.7 305.7 507.6 305.2 512 C304.7 516.4 301.3 520.7 299.3 523.7 C297.4 526.8 294.2 527.7 293.5 530.2 C292.7 532.6 293 536.5 294.9 538.4 C296.9 540.3 301 541.1 305.2 541.3 C309.4 541.6 316 538.9 319.9 539.9 C323.8 540.8 324.8 543.5 328.7 547.2 C332.6 550.9 337 557.7 343.3 561.9 C349.7 566 359.5 571.6 366.8 572.1 C374.1 572.6 382 567.6 387.3 564.8 C392.7 562 397.1 557 399.1 555.4" style="stroke-width:1.4"/>
<g transform="translate(323.9,448.9) rotate(20)">
<path class="wf" style="stroke-width:2" d="M0 -19.6 A9.6 19.6 0 0 0 0 19.6 L23.0 19.6 L23.0 -19.6 Z"/>
<ellipse cx="23.0" cy="0" rx="9.6" ry="19.6" class="wf" style="stroke-width:1.5"/>
<ellipse cx="25.5" cy="0" rx="8.6" ry="17.6" class="tn"/>
<ellipse cx="28.0" cy="0" rx="7.9" ry="16.1" class="tn"/>
<ellipse cx="32.0" cy="0" rx="7.7" ry="15.7" class="wf" style="stroke-width:3"/>
</g>
<ellipse cx="373.6" cy="468.1" rx="18.8" ry="24.3" transform="rotate(20 373.6 468.1)" fill="none" stroke="#111" stroke-width="3.8"/>
<ellipse cx="429.1" cy="487.9" rx="16.2" ry="25.9" transform="rotate(20 429.1 487.9)" fill="none" stroke="#111" stroke-width="2.7"/>
<ellipse cx="404.1" cy="479.4" rx="23.5" ry="26.0" transform="rotate(20 404.1 479.4)" fill="#fff" stroke="#111" stroke-width="3.2"/>
<ellipse cx="404.9" cy="479.9" rx="20.2" ry="22.9" transform="rotate(20 404.9 479.9)" fill="none" stroke="#111" stroke-width="1.2"/>
<ellipse cx="405.7" cy="480.4" rx="17.4" ry="20.3" transform="rotate(20 405.7 480.4)" fill="#555" stroke="#111" stroke-width="2.2"/>
<ellipse cx="409.9" cy="483.0" rx="10.1" ry="17.5" transform="rotate(20 409.9 483.0)" fill="#fff" stroke="#111" stroke-width="1.1"/>
<ellipse cx="409.9" cy="483.0" rx="8.5" ry="15.5" transform="rotate(20 409.9 483.0)" fill="#f1f1f1" stroke="#111" stroke-width="2.6"/>
<g transform="translate(333.0,503.0) rotate(20)">
<path class="wf" style="stroke-width:2" d="M0 -19.6 A9.6 19.6 0 0 0 0 19.6 L22.0 19.6 L22.0 -19.6 Z"/>
<ellipse cx="22.0" cy="0" rx="9.6" ry="19.6" class="wf" style="stroke-width:1.5"/>
<ellipse cx="24.5" cy="0" rx="8.6" ry="17.6" class="tn"/>
<ellipse cx="27.0" cy="0" rx="7.9" ry="16.1" class="tn"/>
<ellipse cx="31.0" cy="0" rx="7.7" ry="15.7" class="wf" style="stroke-width:3"/>
</g>
<ellipse cx="382.1" cy="525.3" rx="17.3" ry="22.0" transform="rotate(20 382.1 525.3)" fill="none" stroke="#111" stroke-width="3.8"/>
<ellipse cx="430.1" cy="541.7" rx="17.1" ry="27.5" transform="rotate(20 430.1 541.7)" fill="none" stroke="#111" stroke-width="2.6" pathLength="100" stroke-dasharray="22 4 74 0" />
<ellipse cx="405.6" cy="533.8" rx="21.5" ry="25.2" transform="rotate(20 405.6 533.8)" fill="#fff" stroke="#111" stroke-width="3.2"/>
<ellipse cx="406.4" cy="534.3" rx="18.5" ry="22.2" transform="rotate(20 406.4 534.3)" fill="none" stroke="#111" stroke-width="1.2"/>
<ellipse cx="407.2" cy="534.8" rx="15.9" ry="19.7" transform="rotate(20 407.2 534.8)" fill="#555" stroke="#111" stroke-width="2.2"/>
<ellipse cx="406.7" cy="535.9" rx="9.6" ry="17.0" transform="rotate(20 406.7 535.9)" fill="#fff" stroke="#111" stroke-width="1.1"/>
<ellipse cx="406.7" cy="535.9" rx="8.0" ry="15.0" transform="rotate(20 406.7 535.9)" fill="#f1f1f1" stroke="#111" stroke-width="2.6"/>
</g>
<!-- 32_pistons_r.svg -->
<g id="pistons-right">
<path class="ln" d="M554.4 515.2 C555.6 514 558 510.2 561.6 508 C565.2 505.8 571.6 502.6 576 502 C580.4 501.4 583.2 502.4 588 504.4 C592.8 506.4 599.2 510.4 604.8 514 C610.4 517.6 616.8 522 621.6 526 C626.4 530 631 534 633.6 538 C636.2 542 636.8 546.4 637.2 550 C637.6 553.6 636.9 557.6 636 559.6 C635.1 561.6 631.3 560.4 631.7 562 C632.1 563.6 636.9 565.2 638.4 569.2 C639.9 573.2 641.2 581.2 640.8 586 C640.4 590.8 636.2 594.8 636 598 C635.8 601.2 640 605.1 639.6 605.2 C639.2 605.3 633.5 598.5 633.6 598.4 C633.7 598.3 638.6 602.3 640 604.8 C641.4 607.3 640.9 610.8 642.1 613.3 C643.4 615.8 645.9 617.2 647.5 619.7 C649.1 622.2 650.8 625.1 651.7 628.3 C652.6 631.5 653 635.7 652.8 638.9 C652.6 642.1 651.9 643.9 650.7 647.5 C649.4 651 647.6 656.4 645.3 660.3 C643 664.2 640 667.7 636.8 670.9 C633.6 674.1 629.7 677.2 626.1 679.5 C622.6 681.8 618.3 684.3 615.5 684.8 C612.6 685.3 612.3 684.3 609.1 682.7 C605.9 681.1 600.2 677.2 596.3 675.2 C592.4 673.2 587 672.4 585.6 670.9 C584.2 669.5 588.4 668.4 587.7 666.7 C587 664.9 582.9 663.1 581.3 660.3 C579.7 657.4 578.8 652.1 578.1 649.6 C577.4 647.1 576.5 646.6 577.1 645.3 C577.6 644.1 580.6 642.7 581.3 642.1" style="stroke-width:1.4"/>
<path class="ln" d="M650.7 645.3 C649.8 647.1 648 653 645.3 656 C642.7 659 638.2 662.4 634.7 663.5 C631.1 664.5 627.6 663.8 624 662.4 C620.4 661 615.1 656.2 613.3 654.9" style="stroke-width:1.3"/>
<path class="ln" d="M554.4 515.2 C554 516.2 551.6 519 552 521.2 C552.4 523.4 554.8 526.6 556.8 528.4 C558.8 530.2 562.8 531.4 564 532" style="stroke-width:1.3"/>
<path class="tn" d="M564 559.6 L576 622"/>
<ellipse cx="507.6" cy="532.7" rx="20.5" ry="28.5" transform="rotate(20 507.6 532.7)" fill="none" stroke="#111" stroke-width="3.5" pathLength="100" stroke-dasharray="68 4 28 0"/>
<ellipse cx="513.1" cy="586.5" rx="18.0" ry="24.0" transform="rotate(20 513.1 586.5)" fill="none" stroke="#111" stroke-width="3.2" pathLength="100" stroke-dasharray="40 5 55 0"/>
<ellipse cx="562.8" cy="550.0" rx="13.5" ry="22.0" transform="rotate(20 562.8 550.0)" fill="none" stroke="#111" stroke-width="3.6" />
<ellipse cx="570.0" cy="611.9" rx="17.0" ry="22.5" transform="rotate(20 570.0 611.9)" fill="none" stroke="#111" stroke-width="3.6" />
<ellipse cx="536.4" cy="545.7" rx="23.0" ry="28.0" transform="rotate(20 536.4 545.7)" fill="#fff" stroke="#111" stroke-width="3.4" />
<ellipse cx="537.2" cy="546.2" rx="19.8" ry="24.6" transform="rotate(20 537.2 546.2)" fill="none" stroke="#111" stroke-width="1.6" />
<ellipse cx="538.0" cy="546.7" rx="16.6" ry="21.3" transform="rotate(20 538.0 546.7)" fill="#444" stroke="#111" stroke-width="3.0" />
<ellipse cx="542.9" cy="548.8" rx="9.3" ry="17.0" transform="rotate(20 542.9 548.8)" fill="#fff" stroke="#111" stroke-width="1.2" />
<ellipse cx="542.9" cy="548.8" rx="7.5" ry="15.0" transform="rotate(20 542.9 548.8)" fill="#f1f1f1" stroke="#111" stroke-width="2.6" />
<ellipse cx="540.0" cy="598.5" rx="19.5" ry="23.5" transform="rotate(20 540.0 598.5)" fill="#fff" stroke="#111" stroke-width="3.4" />
<ellipse cx="540.8" cy="599.0" rx="16.8" ry="20.7" transform="rotate(20 540.8 599.0)" fill="none" stroke="#111" stroke-width="1.6" />
<ellipse cx="541.6" cy="599.5" rx="14.0" ry="17.9" transform="rotate(20 541.6 599.5)" fill="#fff" stroke="#111" stroke-width="1.4" />
<ellipse cx="541.7" cy="598.5" rx="9.8" ry="15.5" transform="rotate(20 541.7 598.5)" fill="#fff" stroke="#111" stroke-width="1.2" />
<ellipse cx="541.7" cy="598.5" rx="8.0" ry="13.5" transform="rotate(20 541.7 598.5)" fill="#f1f1f1" stroke="#111" stroke-width="2.6" />
<g transform="translate(603.6,577.6) rotate(20)">
<path class="wf" style="stroke-width:2.1" d="M0 -20.2 L-24.0 -20.2 A17.5 20.2 0 0 0 -24.0 20.2 L0 20.2 Z"/>
<ellipse rx="17.5" ry="20.2" class="wf" style="stroke-width:2.2"/>
<ellipse rx="10.0" ry="11.5" class="wf" style="stroke-width:3"/>
</g>
<g transform="translate(618.7,631.5) rotate(20)">
<path class="wf" style="stroke-width:2.1" d="M0 -20.6 L-23.0 -20.6 A16.8 20.6 0 0 0 -23.0 20.6 L0 20.6 Z"/>
<ellipse rx="16.8" ry="20.6" class="wf" style="stroke-width:2.2"/>
<ellipse rx="10.0" ry="12.0" class="wf" style="stroke-width:3"/>
</g>
</g>
<!-- 34_pads.svg -->
<g id="pads">
<path class="ln" d="M148 516.8 C150.6 518.6 160.6 524.8 163.6 527.6 C166.6 530.4 165 530.2 166 533.6 C167 537 168.2 542.8 169.6 548 C171 553.2 174 561.1 174.4 564.8 C174.8 568.5 172.6 569.2 172.2 570.1" style="stroke-width:3.8"/>
<path class="ln" d="M171.3 570.1 L191.2 567.2" style="stroke-width:4.6"/>
<path class="ln" d="M176.8 572 C177 576 177.6 590.4 178 596 C178.4 601.6 179.4 601.6 179.2 605.6 C179 609.6 177.8 615.4 176.8 620 C175.8 624.6 173.8 631 173.2 633.2" style="stroke-width:3.2"/>
<path class="ln" d="M181.8 572 C181.8 576.8 181.2 594 181.8 600.8 C182.5 607.6 185 610.8 185.7 612.8" style="stroke-width:2.2"/>
<path class="ln" d="M190 566 C193 563.8 203.6 560.8 209.2 558.8 C214.8 556.8 219.8 554.4 223.6 554 C227.4 553.6 229.8 553.8 232 556.4 C234.2 559 235.2 565.4 236.8 569.6 C238.4 573.8 239.8 578.8 241.6 581.6 C243.4 584.4 246.8 584 247.6 586.4 C248.4 588.8 246 592.8 246.4 596 C246.8 599.2 249 602.4 250 605.6 C251 608.8 252.4 612 252.4 615.2 C252.4 618.4 250 620 250 624.8 C250 629.6 252.6 639.6 252.4 644 C252.2 648.4 251.6 649 248.8 651.2 C246 653.4 240.2 655.2 235.6 657.2 C231 659.2 225.2 662 221.2 663.2 C217.2 664.4 214 665.2 211.6 664.4 C209.2 663.6 208.8 661.4 206.8 658.4 C204.8 655.4 202 649.6 199.6 646.4 C197.2 643.2 194.4 640.8 192.4 639.2 C190.4 637.6 188.4 638.8 187.6 636.8 C186.8 634.8 187 630 187.6 627.2 C188.2 624.4 191 623.2 191.2 620 C191.4 616.8 189.4 611.2 188.8 608 C188.2 604.8 187.4 604.8 187.6 600.8 C187.8 596.8 189.4 588.8 190 584 C190.6 579.2 191.2 575 191.2 572 C191.2 569 187 568.2 190 566Z" style="stroke-width:3"/>
<path class="ln" d="M202 573.2 L221.2 564.8 L226 563.6 L233.2 579.2 L240.4 596 L245.2 605.6 L248.8 634.4 L247.6 648.8 L221.2 660.8 L214 653.6 L206.8 641.6 L198.4 624.8 L194.8 615.2 L194.8 603.2 L200.8 593.6Z" style="stroke-width:2.1"/>
<path class="ln" d="M198.4 624.1 L245.7 605.6" style="stroke-width:3.4"/>
<path class="ln" d="M192.9 572 L191.9 584 L190 600.8 L192.9 615.2 L190 627.2 L192.9 636.8 L202 647.6 L209.7 660.3" style="stroke-width:1.8"/>
<path class="ln" d="M224.8 557.6 L228.4 558.8 L235.6 572 L240.9 584.5" style="stroke-width:1.8"/>
<path class="ln" d="M266.8 606 C268.4 603 272.4 601.8 276.4 600 C280.4 598.2 285.6 596.6 290.8 595.2 C296 593.8 303.6 591.8 307.6 591.6 C311.6 591.4 312.8 592 314.8 594 C316.8 596 318.4 599.6 319.6 603.6 C320.8 607.6 321 614.4 322 618 C323 621.6 324.8 622.4 325.6 625.2 C326.4 628 326 631.2 326.8 634.8 C327.6 638.4 329.4 643.2 330.4 646.8 C331.4 650.4 332.6 653.2 332.8 656.4 C333 659.6 331.4 662.4 331.6 666 C331.8 669.6 333.6 674.8 334 678 C334.4 681.2 334.8 683.2 334 685.2 C333.2 687.2 332 688.4 329.2 690 C326.4 691.6 321.6 693 317.2 694.8 C312.8 696.6 306.6 699.4 302.8 700.8 C299 702.2 296.8 703.4 294.4 703.2 C292 703 290.6 702.2 288.4 699.6 C286.2 697 283.6 691.6 281.2 687.6 C278.8 683.6 276 680 274 675.6 C272 671.2 270.8 666 269.2 661.2 C267.6 656.4 265.2 651.6 264.4 646.8 C263.6 642 264 637.2 264.4 632.4 C264.8 627.6 266.4 622.4 266.8 618 C267.2 613.6 265.2 609 266.8 606Z" style="stroke-width:3"/>
<path class="ln" d="M307.6 595.9 C304.4 597 294.2 600.1 288.4 602.4 C282.6 604.7 275.6 606.6 272.8 609.6 C270 612.6 272 616.2 271.6 620.4 C271.2 624.6 270.4 630.4 270.4 634.8 C270.4 639.2 270.8 642.4 271.6 646.8 C272.4 651.2 273.8 656.4 275.2 661.2 C276.6 666 278.2 671.2 280 675.6 C281.8 680 283.6 683.8 286 687.6 C288.4 691.4 293 696.6 294.4 698.4" style="stroke-width:1.9"/>
<path class="ln" d="M268 610.8 C267.9 614.4 266.6 624 267.3 632.4 C268 640.8 269.4 652 272.1 661.2 C274.8 670.4 280.3 681 283.6 687.6 C286.9 694.2 290.6 698.6 292 700.8" style="stroke-width:3.2"/>
<ellipse cx="292.7" cy="616.1" rx="8" ry="9.6" transform="rotate(15 292.7 616.1)" class="ln" style="stroke-width:2.3"/>
<ellipse cx="306.9" cy="682.8" rx="7.4" ry="10.2" transform="rotate(20 306.9 682.8)" class="ln" style="stroke-width:2.3"/>
<path class="ln" d="M286 634.8 C287 633.2 294 632.6 298 631.2 C302 629.8 308.2 625.8 310 626.4 C311.8 627 310.2 632.4 308.8 634.8 C307.4 637.2 304.4 639.8 301.6 640.8 C298.8 641.8 294.6 641.8 292 640.8 C289.4 639.8 285 636.4 286 634.8Z" style="stroke-width:2.3"/>
<path class="ln" d="M295.6 668.4 C295.2 667.6 299 662.4 301.6 660 C304.2 657.6 308.4 654.4 311.2 654 C314 653.6 317.8 656.2 318.4 657.6 C319 659 317.2 661.2 314.8 662.4 C312.4 663.6 307.2 663.8 304 664.8 C300.8 665.8 296 669.2 295.6 668.4Z" style="stroke-width:2.3"/>
<circle cx="311.9" cy="598.8" r="2.8" class="bk"/>
<circle cx="322.0" cy="628.8" r="2.8" class="bk"/>
<circle cx="327.3" cy="650.4" r="2.8" class="bk"/>
<circle cx="329.2" cy="682.8" r="2.8" class="bk"/>
<path d="M333.5 608.5 L419 650.5" stroke="#111" stroke-width="6.2" stroke-linecap="round" fill="none"/>
<path d="M334 608.8 L418 650" stroke="#fff" stroke-width="2.4" stroke-linecap="round" fill="none"/>
<ellipse cx="420.4" cy="651.6" rx="5" ry="5.5" class="wf" style="stroke-width:2.1"/>
<path class="ln" d="M337.6 655.2 C338.8 655.6 343 655.8 344.8 657.6 C346.6 659.4 347.4 663 348.4 666 C349.4 669 350.8 673.1 350.8 675.6 C350.8 678.1 348 679.6 348.4 680.9 C348.8 682.2 351.8 681.8 353.2 683.3 C354.6 684.8 356.6 687.7 356.8 690 C357 692.3 355 696 354.6 697.2" style="stroke-width:4.2"/>
<circle cx="354.9" cy="696.7" r="2.6" class="bk"/>
<path class="ln" d="M355.6 694.8 C356.8 693.2 360 688 362.8 685.2 C365.6 682.4 369.4 679.7 372.4 678 C375.4 676.3 379.4 675.4 380.8 674.9" style="stroke-width:3.2"/>
<path class="ln" d="M380.8 674.9 C381.4 675.9 382.6 677.6 384.4 680.9 C386.2 684.2 389.2 690.1 391.6 694.8 C394 699.5 396.4 705.2 398.8 709.2 C401.2 713.2 404.4 716.6 406 718.8 C407.6 721 408 721.8 408.4 722.4" style="stroke-width:4.4"/>
<path class="ln" d="M395.2 681.6 C396.6 682 402.8 682.8 403.6 684 C404.4 685.2 400.6 686.2 400.2 688.8 C399.8 691.4 399.8 697 401.2 699.6 C402.6 702.2 406.4 702.8 408.4 704.4 C410.4 706 412.8 707.4 413.2 709.2 C413.6 711 411.8 713.2 410.8 715.2 C409.8 717.2 407.8 720.2 407.2 721.2" style="stroke-width:3.8"/>
<circle cx="407.9" cy="721.7" r="3.6" class="bk"/>
</g>
<!-- 50_labels.svg -->
<g id="labels">
<text x="308.8" y="32.6" font-size="13.9" textLength="79.7" lengthAdjust="spacingAndGlyphs">91611-40814</text>
<text x="150.4" y="66.5" font-size="14.7" textLength="43.2" lengthAdjust="spacingAndGlyphs">47781</text>
<text x="197.5" y="66.3" font-size="9.4" textLength="23.5" lengthAdjust="spacingAndGlyphs">(RH)</text>
<text x="150.4" y="81.6" font-size="14.7" textLength="43.2" lengthAdjust="spacingAndGlyphs">47782</text>
<text x="197.5" y="81.3" font-size="9.4" textLength="22.5" lengthAdjust="spacingAndGlyphs">(LH)</text>
<text x="151.0" y="92.0" font-size="9.7" textLength="40.0" lengthAdjust="spacingAndGlyphs">COVER</text>
<text x="331.2" y="138.0" font-size="15.3" textLength="56.0" lengthAdjust="spacingAndGlyphs">47710A</text>
<text x="332.5" y="147.3" font-size="9.7" textLength="29.5" lengthAdjust="spacingAndGlyphs">BOLT</text>
<text x="350.0" y="202.0" font-size="15.3" textLength="54.0" lengthAdjust="spacingAndGlyphs">47710A</text>
<text x="349.2" y="211.3" font-size="9.7" textLength="30.1" lengthAdjust="spacingAndGlyphs">BOLT</text>
<text x="568.5" y="141.6" font-size="14.7" textLength="42.8" lengthAdjust="spacingAndGlyphs">47730</text>
<text x="614.8" y="141.8" font-size="8.9" textLength="19.7" lengthAdjust="spacingAndGlyphs">(RH)</text>
<text x="568.5" y="154.5" font-size="15.3" textLength="42.8" lengthAdjust="spacingAndGlyphs">47750</text>
<text x="614.8" y="154.2" font-size="8.9" textLength="19.7" lengthAdjust="spacingAndGlyphs">(LH)</text>
<text x="569.3" y="165.5" font-size="10.6" textLength="54.3" lengthAdjust="spacingAndGlyphs">CYLINDER</text>
<text x="389.2" y="235.3" font-size="14.7" textLength="43.5" lengthAdjust="spacingAndGlyphs">47786</text>
<text x="434.0" y="234.8" font-size="9.2" textLength="24.0" lengthAdjust="spacingAndGlyphs">(RH)</text>
<text x="389.2" y="247.9" font-size="14.7" textLength="43.5" lengthAdjust="spacingAndGlyphs">47787</text>
<text x="434.0" y="247.3" font-size="9.2" textLength="24.0" lengthAdjust="spacingAndGlyphs">(LH)</text>
<text x="389.2" y="260.7" font-size="11.4" textLength="103.5" lengthAdjust="spacingAndGlyphs">REINFORCEMENT</text>
<text x="412.1" y="335.3" font-size="15.3" textLength="55.2" lengthAdjust="spacingAndGlyphs">47781A</text>
<text x="412.7" y="345.5" font-size="10.0" textLength="29.3" lengthAdjust="spacingAndGlyphs">BOLT</text>
<text x="293.5" y="356.7" font-size="13.3" textLength="78.6" lengthAdjust="spacingAndGlyphs">94512-01000</text>
<text x="194.7" y="393.5" font-size="15.3" textLength="43.1" lengthAdjust="spacingAndGlyphs">47713</text>
<text x="194.7" y="404.6" font-size="10.6" textLength="30.8" lengthAdjust="spacingAndGlyphs">PLUG</text>
<text x="143.9" y="459.5" font-size="14.7" textLength="43.4" lengthAdjust="spacingAndGlyphs">47714</text>
<text x="144.8" y="469.7" font-size="10.0" textLength="22.0" lengthAdjust="spacingAndGlyphs">CAP</text>
<text x="343.3" y="404.9" font-size="15.3" textLength="42.6" lengthAdjust="spacingAndGlyphs">47731</text>
<text x="343.3" y="414.6" font-size="10.0" textLength="42.6" lengthAdjust="spacingAndGlyphs">PISTON</text>
<text x="423.1" y="431.3" font-size="15.3" textLength="53.7" lengthAdjust="spacingAndGlyphs">47731A</text>
<text x="423.1" y="441.0" font-size="10.0" textLength="30.2" lengthAdjust="spacingAndGlyphs">RING</text>
<text x="244.5" y="506.4" font-size="15.0" textLength="42.5" lengthAdjust="spacingAndGlyphs">47731</text>
<text x="244.5" y="516.0" font-size="10.0" textLength="42.0" lengthAdjust="spacingAndGlyphs">PISTON</text>
<text x="394.7" y="597.1" font-size="15.3" textLength="54.2" lengthAdjust="spacingAndGlyphs">47731A</text>
<text x="395.0" y="607.5" font-size="10.0" textLength="29.0" lengthAdjust="spacingAndGlyphs">RING</text>
<text x="504.0" y="466.0" font-size="15.3" textLength="56.0" lengthAdjust="spacingAndGlyphs">47731A</text>
<text x="505.0" y="476.0" font-size="10.3" textLength="31.0" lengthAdjust="spacingAndGlyphs">RING</text>
<text x="486.0" y="644.0" font-size="15.3" textLength="54.0" lengthAdjust="spacingAndGlyphs">47731A</text>
<text x="486.0" y="654.0" font-size="10.3" textLength="26.0" lengthAdjust="spacingAndGlyphs">RING</text>
<text x="650.0" y="562.5" font-size="16.0" textLength="42.5" lengthAdjust="spacingAndGlyphs">47731</text>
<text x="650.0" y="572.0" font-size="10.3" textLength="42.5" lengthAdjust="spacingAndGlyphs">PISTON</text>
<text x="661.0" y="634.0" font-size="16.0" textLength="41.5" lengthAdjust="spacingAndGlyphs">47731</text>
<text x="661.0" y="643.0" font-size="10.3" textLength="41.5" lengthAdjust="spacingAndGlyphs">PISTON</text>
<text x="84.0" y="537.8" font-size="15.3" textLength="54.0" lengthAdjust="spacingAndGlyphs">47748A</text>
<text x="84.0" y="547.5" font-size="10.3" textLength="25.6" lengthAdjust="spacingAndGlyphs">CLIP</text>
<text x="445.0" y="674.0" font-size="15.3" textLength="52.5" lengthAdjust="spacingAndGlyphs">47748B</text>
<text x="445.0" y="684.0" font-size="10.0" textLength="19.0" lengthAdjust="spacingAndGlyphs">PIN</text>
<text x="437.5" y="719.0" font-size="15.3" textLength="43.5" lengthAdjust="spacingAndGlyphs">47748</text>
<text x="437.5" y="729.0" font-size="10.3" textLength="43.5" lengthAdjust="spacingAndGlyphs">SPRING</text>
</g>
<g class="ln" style="stroke-width:1.5">
<path d="M349.9 36.0 L349.9 48.0"/>
<path d="M169.6 95.0 L169.6 140.0"/>
<path d="M355.5 100.0 L355.5 122.0"/>
<path d="M371.3 170.0 L371.3 188.7"/>
<path d="M414.0 183.0 L414.0 223.0"/>
<path d="M387.3 334.8 L410.0 334.8"/>
<path d="M333.2 324.7 L333.2 346.0"/>
<path d="M208.7 405.8 L208.7 428.7"/>
<path d="M159.5 418.4 L159.5 447.7"/>
<path d="M543.0 145.3 L566.4 145.3"/>
<path d="M360.9 415.8 L360.9 437.2"/>
<path d="M440.1 442.2 L440.1 468.0"/>
<path d="M412.9 559.0 L412.9 582.4"/>
<path d="M290.5 506.1 L324.3 506.1"/>
<path d="M522.5 477.5 L522.5 510.0"/>
<path d="M622.5 562.5 L647.5 562.5"/>
<path d="M635.0 632.5 L659.0 632.5"/>
<path d="M504.0 607.5 L504.0 630.0"/>
<path d="M140.4 537.8 L163.9 537.8"/>
<path d="M412.5 720.0 L435.0 720.0"/>
<path d="M421 651 L436 673.5 L443 673.5"/>
</g>
</g>
<g opacity="0.055" transform="translate(375.5,375.5) scale(5.29)"><use href="#badge"/></g>
<!-- 60_marks.svg -->
<circle cx="360.5" cy="131" r="63.8" fill="none" stroke="#ea1f29" stroke-width="7.6"/>
<g fill="none" stroke="#0a0a0a" stroke-linejoin="miter" stroke-miterlimit="6">
<path d="M263.3 55.3 L329.5 85.2" stroke-width="6"/><path d="M322.7 72 L331.5 86 L314.7 89.3" stroke-width="5.4" stroke-linecap="round"/>
<path d="M463.3 214.7 L397.5 173.8" stroke-width="6"/><path d="M414.2 171.4 L395 172 L402.2 188.3" stroke-width="5.4" stroke-linecap="round"/>
<path d="M397 173 L408 174 L403 182Z" fill="#0a0a0a" stroke="none"/>
</g>

<use href="#badge" transform="translate(71.3,71)"/>
</svg></body></html>
